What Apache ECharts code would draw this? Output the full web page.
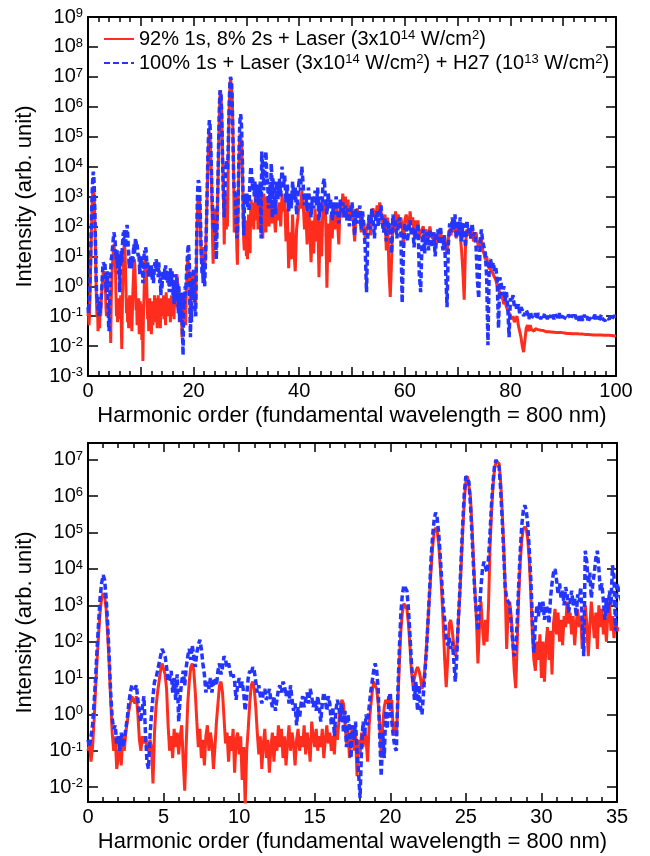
<!DOCTYPE html>
<html>
<head>
<meta charset="utf-8">
<script src="https://cdn.jsdelivr.net/npm/echarts@6/dist/echarts.min.js"></script>
<style>
html,body{margin:0;padding:0;background:#fff;}
#chart{width:650px;height:856px;}
</style>
</head>
<body>
<div id="chart"></div>
<script>
// ---------------- DATA (intensities, stored in decades: log10 of arb. unit) ----------------
// Fine sampling: harmonic order 0.0 ... 35.0, step 0.1
const fineStart = 0, fineStep = 0.1;
const redFineLog10 = [
 -1.0,-0.8,-1.3,-0.9,-0.2,0.7,1.5,2.2,2.8,3.2,
 3.33,3.25,2.9,2.2,1.4,0.4,-0.5,-1.0,-0.6,-1.5,
 -1.2,-0.7,-1.4,-0.6,-1.0,-0.5,-0.2,0.1,0.3,0.5,
 0.47,0.3,0.5,0.0,-0.7,-1.0,-0.6,-0.8,-0.6,-0.9,
 -1.0,-0.7,-0.9,-1.9,-0.5,0.2,0.6,0.9,1.2,1.4,
 1.4,1.1,0.7,-0.3,-1.0,-0.6,-1.2,-0.4,-0.9,-0.5,
 -1.1,-0.6,-0.3,-1.3,-2.1,-0.8,0.3,0.9,1.3,1.4,
 1.2,0.6,-0.2,-0.9,-0.4,-1.2,-0.7,-1.4,-0.6,-0.3,
 -1.0,-0.5,-0.8,-1.5,-0.9,-0.2,0.3,0.8,0.9,0.6,
 -0.1,-0.8,-0.5,-1.3,-0.6,-1.0,-0.4,-1.6,-0.7,-0.5,
 -1.1,-0.6,-1.8,-0.9,-2.5,-1.0,-0.4,0.3,0.8,0.9,
 0.7,0.2,-0.5,-1.1,-0.6,-1.5,-0.8,-0.4,-1.2,-0.7,
 -1.6,-0.9,-0.5,-1.3,-0.6,-1.0,-0.3,-0.9,-0.4,-1.2,
 -0.6,-1.4,-0.8,-0.3,-1.0,-0.5,-0.8,-1.4,-0.7,-0.4,
 -1.0,-0.6,-0.9,-0.3,-1.1,-0.5,-0.8,-1.3,-0.2,-0.6,
 -0.9,-0.4,-1.0,-0.6,-0.9,-0.4,-1.2,-0.7,-0.3,-0.8,
 -0.5,-1.0,-0.6,-1.1,-0.3,-0.7,-0.2,0.2,0.4,0.3,
 -0.2,-0.8,-0.4,-1.2,-0.6,-0.3,-1.0,-0.5,-1.7,-0.7,
 -1.1,-0.5,-0.9,-0.4,-0.7,-1.3,-0.3,0.2,0.6,0.9,
 0.9,0.7,0.3,-0.3,-1.2,-0.3,0.2,0.4,0.3,0.5,
 0.1,0.4,-0.5,-0.2,-0.6,0.3,1.4,2.3,2.8,3.05,
 3.05,2.9,2.5,1.9,1.2,0.8,1.0,1.2,1.3,1.2,
 1.0,0.7,0.9,1.3,1.9,2.6,3.3,4.0,4.6,5.0,
 5.13,5.05,4.7,4.1,3.4,2.5,1.5,0.75,1.5,2.5,
 2.6,2.3,1.9,1.6,1.8,2.5,3.3,4.2,5.1,5.9,
 6.4,6.55,6.5,6.0,5.2,4.3,3.4,2.6,1.4,2.4,
 3.1,2.4,1.9,2.6,2.0,3.0,4.6,5.6,6.3,6.75,
 6.95,7.0,6.9,6.4,5.6,4.7,3.5,1.8,2.9,3.1,
 2.7,2.0,1.2,0.72,2.0,3.3,4.2,4.8,5.1,5.16,
 5.1,4.8,4.2,3.3,2.2,1.5,1.2,2.0,1.5,2.2,
 1.0,2.0,0.9,1.9,2.4,1.5,2.3,1.1,2.5,2.9,
 2.2,2.8,2.0,2.6,1.9,2.7,2.4,3.1,2.5,2.8,
 2.2,2.7,1.9,2.5,2.9,2.4,2.7,1.8,2.2,3.0,
 2.5,1.6,2.4,3.1,2.6,2.1,2.8,1.8,3.0,2.4,
 2.9,2.2,2.6,2.0,2.8,3.1,2.3,2.7,2.1,2.6,
 2.3
];
const blueFineLog10 = [
 -0.7,-0.9,-0.6,-0.3,0.3,1.0,1.8,2.5,3.2,3.6,
 3.83,3.7,3.2,2.5,1.6,0.6,-0.1,-0.4,-0.3,-0.8,
 -0.6,-1.0,-0.5,-0.9,-0.7,-0.4,-0.1,0.3,0.6,0.8,
 0.85,0.7,0.8,0.4,0.0,-0.2,0.2,0.5,-0.5,-1.3,
 -1.5,-0.6,0.0,0.5,0.9,1.0,1.2,1.4,1.6,1.8,
 1.85,1.6,1.3,0.9,1.0,1.2,0.6,1.0,0.4,1.1,
 -0.2,0.5,0.9,1.2,0.8,1.3,1.6,1.8,1.5,1.9,
 1.6,1.3,1.7,1.9,2.05,1.8,1.4,1.1,0.6,0.9,
 0.7,1.0,0.6,0.9,1.0,0.8,1.2,1.4,1.1,1.3,
 1.6,1.5,1.3,1.4,1.2,1.0,1.1,0.9,0.4,0.8,
 1.0,0.7,0.9,0.6,0.1,0.5,1.0,1.2,1.1,1.3,
 1.2,0.9,0.6,0.8,0.5,0.3,0.6,0.7,0.4,0.5,
 0.7,0.4,0.2,0.5,0.1,0.4,0.7,0.8,0.6,0.9,
 0.8,0.5,0.7,0.3,0.8,0.4,0.1,0.3,-0.3,0.2,
 -0.1,0.3,0.5,0.2,0.4,0.6,0.3,0.7,0.5,0.2,
 0.4,0.1,0.5,0.2,-0.2,0.3,0.6,0.4,0.1,0.5,
 0.3,-0.3,0.2,-0.6,0.1,0.4,0.2,-0.2,0.3,-0.5,
 0.1,-0.9,0.0,-0.4,-1.2,-0.3,-0.7,-0.2,-1.0,-1.6,
 -2.3,-0.9,-0.2,-0.6,0.0,-0.3,0.2,0.6,0.9,1.2,
 1.4,1.2,0.7,-0.6,-1.7,-0.5,-1.2,0.1,-0.4,0.4,
 0.6,-0.2,-0.6,-0.9,-1.0,0.6,1.8,2.8,3.3,3.55,
 3.6,3.4,2.9,2.2,1.4,0.9,0.4,0.9,0.1,0.8,
 0.2,0.0,0.6,1.2,1.8,2.6,3.4,4.3,4.9,5.35,
 5.55,5.4,5.0,4.4,3.7,3.0,2.6,2.1,1.9,2.1,
 1.8,2.0,1.5,0.9,1.6,2.6,3.4,4.4,5.3,6.1,
 6.55,6.6,6.4,5.8,5.0,4.1,3.3,2.8,2.3,2.9,
 3.5,4.0,4.2,4.25,3.9,4.3,5.0,5.8,6.4,6.85,
 7.0,6.95,6.8,6.2,5.4,4.5,3.5,3.2,3.1,3.0,
 2.5,2.0,1.6,1.8,2.6,3.6,4.5,5.2,5.6,5.75,
 5.6,5.2,4.5,3.7,2.6,1.7,2.5,3.0,2.7,3.1,
 2.8,3.1,2.6,3.0,2.9,2.5,3.2,3.6,3.9,4.0,
 3.7,3.3,3.6,3.2,3.4,3.0,3.5,3.3,2.8,3.1,
 3.4,3.0,3.2,2.7,3.3,3.1,3.5,2.6,1.6,4.5,
 4.2,3.6,3.9,3.2,3.6,3.9,4.3,4.5,4.0,3.4,
 3.6,3.1,2.6,3.2,2.8,3.4,3.0,4.1,3.8,2.3,
 3.6
];
// Coarse sampling: harmonic order 35.25 ... 100, step 0.25
const coarseStart = 35.25, coarseStep = 0.25;
const redCoarseLog10 = [
 2.4,1.8,2.7,2.2,  2.8,2.0,3.1,2.5,  2.9,1.5,2.6,0.6,  1.8,0.9,2.4,1.2,
 0.5,1.9,2.3,2.8,  2.6,3.2,2.8,1.9,  2.5,1.4,2.7,2.0,  0.8,2.2,1.1,2.6,
 1.5,2.4,0.3,2.2,  1.0,2.7,2.9,2.3,  -0.05,2.1,0.8,2.4,  1.6,2.6,1.9,2.7,
 2.2,1.4,2.8,2.3,  3.1,2.5,3.0,2.4,  2.9,2.2,2.6,2.7,  2.2,1.5,2.4,2.6,
 2.3,2.5,1.8,2.2,  2.1,1.6,1.9,2.0,  2.3,1.7,2.5,2.6,  2.4,2.2,2.7,2.3,
 2.8,2.5,2.2,2.0,  2.4,1.2,2.3,0.5,  -0.36,0.9,2.2,1.8,  2.5,1.9,2.4,2.1,
 2.3,2.0,1.4,2.2,  2.4,2.2,1.9,2.5,  2.1,2.3,1.7,2.2,  1.9,2.2,1.6,1.8,
 1.8,2.0,1.5,1.9,  1.9,1.6,2.0,1.7,  1.6,1.8,1.4,1.7,  1.7,1.5,1.8,1.6,
 1.5,1.7,1.3,1.1,  1.6,1.9,1.7,2.1,  1.8,2.1,1.6,2.0,  1.9,1.7,1.2,0.5,
 -0.45,1.4,1.9,1.7,  1.8,1.6,1.9,1.5,  1.6,1.8,1.5,1.3,  1.5,1.6,1.2,1.1,
 0.9,1.0,0.7,0.6,  0.6,0.5,0.4,0.3,  0.2,0.0,-0.1,-0.2,  -0.3,-0.4,-0.6,-0.5,
 -0.7,-0.8,-0.9,-1.0,  -1.1,-1.0,-1.2,-1.1,  -1.0,-1.3,-1.5,-1.7,  -2.0,-2.2,-1.8,-1.4,
 -1.3,-1.5,-1.3,-1.45,  -1.4,-1.5,-1.42,-1.48,  -1.45,-1.5,-1.47,-1.5,  -1.48,-1.5,-1.52,-1.5,
 -1.52,-1.5,-1.53,-1.52,  -1.54,-1.53,-1.55,-1.54,  -1.55,-1.56,-1.55,-1.57,  -1.56,-1.57,-1.58,-1.57,
 -1.58,-1.57,-1.59,-1.58,  -1.59,-1.6,-1.59,-1.6,  -1.6,-1.61,-1.6,-1.61,  -1.61,-1.62,-1.61,-1.62,
 -1.62,-1.62,-1.63,-1.62,  -1.63,-1.62,-1.63,-1.64,  -1.63,-1.64,-1.64,-1.63,  -1.64,-1.65,-1.64,-1.65,
 -1.65,-1.65,-1.66,-1.65
];
const blueCoarseLog10 = [
 3.2,2.4,3.5,2.9,  3.6,3.0,4.0,3.3,  3.7,2.8,3.4,2.5,  3.1,2.6,3.5,2.9,
 3.3,2.4,3.0,3.6,  3.2,4.0,3.4,2.7,  3.1,2.5,3.3,2.8,  2.3,3.0,2.6,3.2,
 2.7,3.3,2.2,3.0,  2.5,3.4,3.6,2.8,  2.4,3.1,2.6,2.9,  2.2,2.8,2.4,3.0,
 2.6,2.1,2.9,2.5,  2.8,2.3,2.7,2.2,  2.6,2.0,2.5,2.8,  2.3,1.7,2.6,2.1,
 2.4,2.7,1.9,2.5,  2.0,1.3,-0.2,1.8,  2.4,1.9,2.6,2.2,  1.6,2.3,2.5,2.0,
 2.4,2.7,2.1,1.8,  2.3,1.5,2.2,1.9,  2.1,1.1,2.4,2.0,  2.2,1.6,2.0,2.3,
 1.8,-0.55,1.2,2.1,  2.0,1.5,1.9,2.2,  1.7,2.0,1.3,1.9,  1.6,2.1,0.4,-0.2,
 1.4,1.9,1.1,1.7,  1.8,1.2,1.9,1.5,  1.3,1.8,1.0,1.6,  1.9,1.4,2.0,1.5,
 1.2,1.7,0.5,-0.7,  1.4,2.1,1.8,2.3,  1.9,2.4,1.6,2.2,  1.7,2.3,1.5,2.1,
 1.9,1.3,2.2,1.8,  2.0,1.6,2.1,1.7,  1.8,1.3,0.2,-0.4,  1.4,1.9,1.5,1.3,
 1.1,0.3,-1.97,0.8,  0.9,0.6,0.8,0.5,  0.6,0.2,-1.4,0.3,  0.1,-0.3,0.0,-0.5,
 -0.2,-0.7,-1.7,-0.4,  -0.5,-0.3,-0.7,-0.6,  -0.8,-0.6,-0.9,-0.7,  -0.8,-1.0,-0.9,-0.8,
 -0.9,-1.1,-0.85,-1.0,  -0.95,-1.05,-0.9,-1.1,  -0.9,-1.0,-1.1,-0.95,  -1.05,-0.9,-1.0,-1.1,
 -0.95,-1.05,-0.9,-1.0,  -1.1,-0.95,-1.0,-1.05,  -0.9,-1.1,-1.0,-0.95,  -1.05,-1.0,-1.1,-0.95,
 -1.0,-1.1,-0.95,-1.05,  -0.95,-1.1,-1.0,-1.15,  -1.0,-1.05,-1.15,-0.95,  -1.1,-1.0,-1.2,-1.05,
 -1.0,-1.15,-1.05,-0.95,  -1.1,-1.0,-1.15,-1.05,  -0.95,-1.1,-1.05,-1.15,  -1.05,-1.0,-1.1,-1.0,
 -1.1,-1.0,-1.05,-1.0
];
const seriesNames = [
  '92% 1s, 8% 2s + Laser (3x10^14 W/cm^2)',
  '100% 1s + Laser (3x10^14 W/cm^2) + H27 (10^13 W/cm^2)'
];
const legendRich = [
  '{b|92% 1s, 8% 2s + Laser (3x10}{sup|14}{b| W/cm}{sup|2}{b|)}',
  '{b|100% 1s + Laser (3x10}{sup|14}{b| W/cm}{sup|2}{b|) + H27 (10}{sup|13}{b| W/cm}{sup|2}{b|)}'
];
const xTitle = 'Harmonic order (fundamental wavelength = 800 nm)';
const yTitle = 'Intensity (arb. unit)';
const topXRange = [0, 100], topYRange = [1e-3, 1e9];
const bottomXRange = [0, 35], bottomYRange = [3.9e-3, 2.9e7];

// ---------------- STYLE ----------------
const FONT = '"Liberation Sans", Arial, Helvetica, sans-serif';
const RED = '#ff2d1e';
const BLUE = '#2435ff';

function buildPoints(fineLog, coarseLog) {
  const pts = [];
  fineLog.forEach((d, i) => pts.push([+(fineStart + i * fineStep).toFixed(2), Math.pow(10, d)]));
  coarseLog.forEach((d, i) => pts.push([+(coarseStart + i * coarseStep).toFixed(2), Math.pow(10, d)]));
  return pts;
}
const redPts = buildPoints(redFineLog10, redCoarseLog10);
const bluePts = buildPoints(blueFineLog10, blueCoarseLog10);

const richSup = {
  b: {fontSize: 20, lineHeight: 20, verticalAlign: 'bottom', fontFamily: FONT, color: '#000'},
  sup: {fontSize: 13, lineHeight: 13, padding: [0, 0, 10, 0], verticalAlign: 'top', fontFamily: FONT, color: '#000'}
};

function powLabel(v) {
  const l = Math.log10(v);
  const e = Math.round(l);
  if (Math.abs(l - e) > 1e-6) return '';
  return '{b|10}{sup|' + e + '}';
}

const lineAx = {show: true, onZero: false, lineStyle: {color: '#000', width: 2}};
function xAxisDef(grid, range, interval, minorSplit, labelEvery, withLabels, pos) {
  const ax = {
    gridIndex: grid, type: 'value', min: range[0], max: range[1], interval: interval,
    position: pos,
    axisLine: lineAx,
    axisTick: {show: true, inside: true, length: 9, lineStyle: {color: '#000', width: 1.5}},
    minorTick: {show: true, splitNumber: minorSplit, length: 5, lineStyle: {color: '#000', width: 1.5}},
    splitLine: {show: false}, minorSplitLine: {show: false},
    axisLabel: {show: withLabels, margin: 5, fontSize: 20, color: '#000', fontFamily: FONT,
      formatter: v => (Math.round(v) % labelEvery === 0 ? String(Math.round(v)) : '')}
  };
  if (withLabels) {
    ax.name = xTitle; ax.nameLocation = 'middle'; ax.nameGap = 29;
    ax.nameTextStyle = {fontSize: 22, color: '#000', fontFamily: FONT};
  }
  return ax;
}
// logInterval: decade step (used only when min is an exact decade); otherwise splitNumber is used
function yAxisDef(grid, range, splitNumber, logInterval, withLabels, pos) {
  const ax = {
    gridIndex: grid, type: 'log', logBase: 10, min: range[0], max: range[1],
    splitNumber: splitNumber,
    position: pos,
    axisLine: lineAx,
    axisTick: {show: true, inside: true, length: 10, lineStyle: {color: '#000', width: 1.5}},
    minorTick: {show: false}, splitLine: {show: false}, minorSplitLine: {show: false},
    axisLabel: {show: withLabels, margin: 5, formatter: powLabel, rich: richSup, showMinLabel: true, showMaxLabel: true}
  };
  if (logInterval) ax.interval = logInterval;
  if (withLabels) {
    ax.name = yTitle; ax.nameLocation = 'middle'; ax.nameGap = 52;
    ax.nameTextStyle = {fontSize: 22, color: '#000', fontFamily: FONT};
  }
  return ax;
}
function lineSeries(name, pts, xi, yi, color, dashed) {
  return {
    type: 'line', name: name, data: pts, xAxisIndex: xi, yAxisIndex: yi,
    symbol: 'none', showSymbol: false, clip: true, animation: false,
    lineStyle: {color: color, width: dashed ? 3.5 : 3, type: dashed ? [6, 3] : 'solid'},
    itemStyle: {color: color}
  };
}

const chart = echarts.init(document.getElementById('chart'), null, {renderer: 'canvas'});
chart.setOption({
  animation: false,
  backgroundColor: '#fff',
  grid: [
    {left: 88, top: 17, width: 528, height: 359, containLabel: false},
    {left: 88, top: 443, width: 529, height: 359, containLabel: false}
  ],
  xAxis: [
    xAxisDef(0, topXRange, 10, 5, 20, true, 'bottom'),
    xAxisDef(0, topXRange, 10, 5, 20, false, 'top'),
    xAxisDef(1, bottomXRange, 5, 5, 5, true, 'bottom'),
    xAxisDef(1, bottomXRange, 5, 5, 5, false, 'top')
  ],
  yAxis: [
    yAxisDef(0, topYRange, 12, 1, true, 'left'),
    yAxisDef(0, topYRange, 12, 1, false, 'right'),
    yAxisDef(1, bottomYRange, 10, null, true, 'left'),
    yAxisDef(1, bottomYRange, 10, null, false, 'right')
  ],
  legend: {
    orient: 'vertical', left: 98, top: 24, itemWidth: 30, itemHeight: 14, itemGap: 1,
    data: seriesNames,
    formatter: n => legendRich[seriesNames.indexOf(n)],
    textStyle: {rich: richSup},
    itemStyle: {color: 'rgba(0,0,0,0)', borderColor: 'rgba(0,0,0,0)', borderWidth: 0},
    selectedMode: false
  },
  series: [
    lineSeries(seriesNames[0], redPts, 0, 0, RED, false),
    lineSeries(seriesNames[1], bluePts, 0, 0, BLUE, true),
    lineSeries(seriesNames[0], redPts, 2, 2, RED, false),
    lineSeries(seriesNames[1], bluePts, 2, 2, BLUE, true)
  ]
});
</script>
</body>
</html>
